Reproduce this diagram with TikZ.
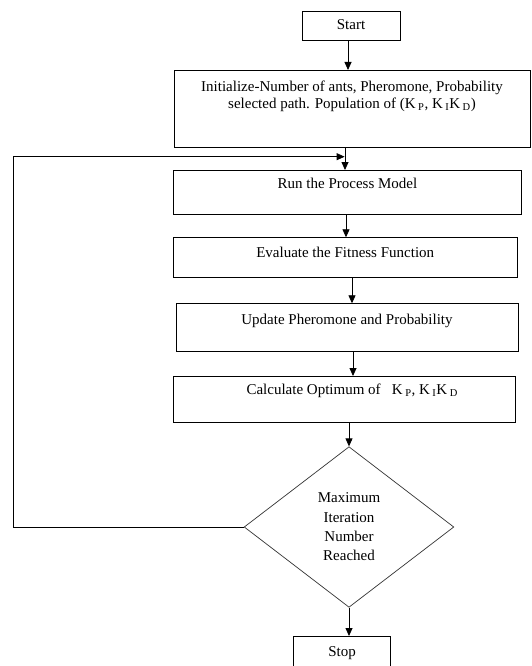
\documentclass[tikz,border=0pt]{standalone}
\usepackage{fontspec}
\setmainfont{Liberation Serif}
\usetikzlibrary{shapes.geometric,arrows.meta}
\begin{document}
\begin{tikzpicture}[x=1pt,y=-1pt,
  box/.style={draw, line width=0.8pt, inner sep=0pt, anchor=north, font=\fontsize{15}{17}\selectfont},
  decision/.style={diamond, draw=black!80, line width=0.7pt, inner sep=0pt, align=center, font=\fontsize{15}{19.3}\selectfont},
  arr/.style={-{Triangle[length=8pt,width=7pt]}, line width=0.8pt},
  conn/.style={line width=0.8pt},
]
\useasboundingbox (0,0) rectangle (531,666);
\fill[white] (0,0) rectangle (531,666);

\node[box, minimum width=98pt, text height=18.3pt, text depth=11pt] (start) at (351,10.7) {Start};
\node[box, text height=21pt, text depth=56pt] (init) at (352,70)
  {\parbox[t]{356pt}{\centering Initialize-Number of ants, Pheromone, Probability\\
   selected path. Population of (K\,\textsubscript{P}, K\,\textsubscript{I}K\,\textsubscript{D})}};
\node[box, minimum width=348.4pt, text height=18.5pt, text depth=25.5pt] (run) at (347.5,170) {Run the Process Model};
\node[box, minimum width=344.3pt, text height=19.4pt, text depth=20.6pt] (eval) at (345.2,237.3) {Evaluate the Fitness Function};
\node[box, minimum width=342pt, text height=20.7pt, text depth=26.7pt] (upd) at (347,303.3) {Update Pheromone and Probability};
\node[box, minimum width=341.7pt, text height=18pt, text depth=27.7pt] (calc) at (344.2,376)
  {\hspace*{16pt}Calculate Optimum of \ \ K\,\textsubscript{P}, K\,\textsubscript{I}K\,\textsubscript{D}};
\node[decision, minimum width=209.7pt, minimum height=160.6pt] (dec) at (349,527)
  {Maximum\\Iteration\\Number\\Reached};
\node[box, minimum width=97.4pt, text height=20pt, text depth=30pt] (stop) at (342,636) {Stop};

\coordinate (a1) at (348,0);
\coordinate (a2) at (345,0);
\coordinate (a3) at (346,0);
\coordinate (a4) at (352,0);
\coordinate (a5) at (353,0);
\coordinate (a6) at (349,0);
\coordinate (fbtop) at (13.3,156.7);
\coordinate (fbend) at (344.6,156.7);

\draw[arr] (start.south -| a1) -- (init.north -| a1);
\draw[arr] (init.south -| a2) -- (run.north -| a2);
\draw[arr] (run.south -| a3) -- (eval.north -| a3);
\draw[arr] (eval.south -| a4) -- (upd.north -| a4);
\draw[arr] (upd.south -| a5) -- (calc.north -| a5);
\draw[arr] (calc.south -| a6) -- (dec.north);
\draw[arr] (dec.south) -- (stop.north -| a6);
\draw[arr] (dec.west) -- (dec.west -| fbtop) -- (fbtop) -- (fbend);
\end{tikzpicture}
\end{document}
